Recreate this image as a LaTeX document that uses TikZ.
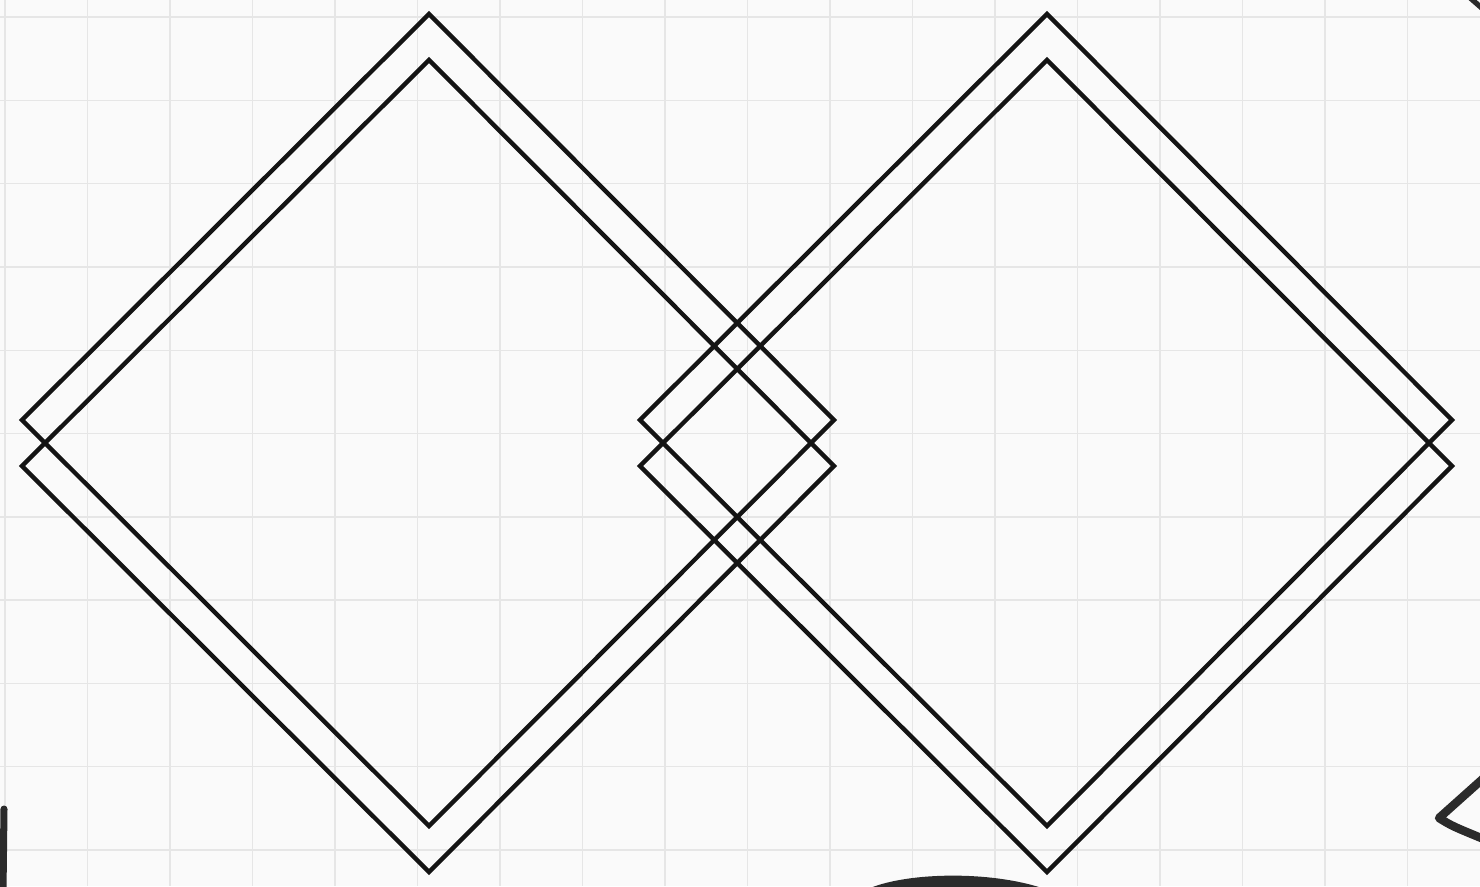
\documentclass[tikz,border=0pt]{standalone}
\usepackage{tikz}
\usetikzlibrary{calc}

\definecolor{paper}{HTML}{FAFAFA}
\definecolor{gridline}{HTML}{E6E6E6}
\definecolor{ink}{HTML}{2B2B2B}

\begin{document}
\begin{tikzpicture}[
		x=0.02cm,
		y=-0.02cm,
		gridrule/.style={
			draw=gridline,
			line width=0.8pt
		},
		outline/.style={
			draw=black!92,
			line width=2.5pt,
			line join=miter
		},
		scribble/.style={
			draw=ink,
			line width=3.4pt,
			line cap=round,
			line join=round
		}
		]
		
		\fill[paper] (0,0) rectangle (1480,886);
		\useasboundingbox (0,0) rectangle (1480,886);
		
		\foreach \gx in {0,...,17}
			\draw[gridrule] ({5+82.5*\gx},0) -- ({5+82.5*\gx},886);
		\foreach \gy in {0,...,10}
			\draw[gridrule] (0,{17+83.3*\gy}) -- (1480,{17+83.3*\gy});
		
		\foreach \cx in {429,1047}
			\foreach \dy in {0,46}
				\draw[outline] (\cx,{14+\dy}) -- ({\cx+405},{420+\dy})
					-- (\cx,{826+\dy}) -- ({\cx-407},{420+\dy}) -- cycle;
		
		\coordinate (penA) at (4,809);
		\coordinate (penB) at (3,892);
		\draw[scribble, line width=4pt] (penA) -- (penB);
		
		\fill[ink] (870,888) .. controls (910,872) and (990,871) .. (1042,888) -- cycle;
		
		\draw[scribble, line width=4.8pt] (1486,776) -- (1439,818)
			.. controls (1452,826) .. (1486,840);
		
		\draw[scribble, line width=3pt] (1468,-4) -- (1484,10);
		
	\end{tikzpicture}
\end{document}
